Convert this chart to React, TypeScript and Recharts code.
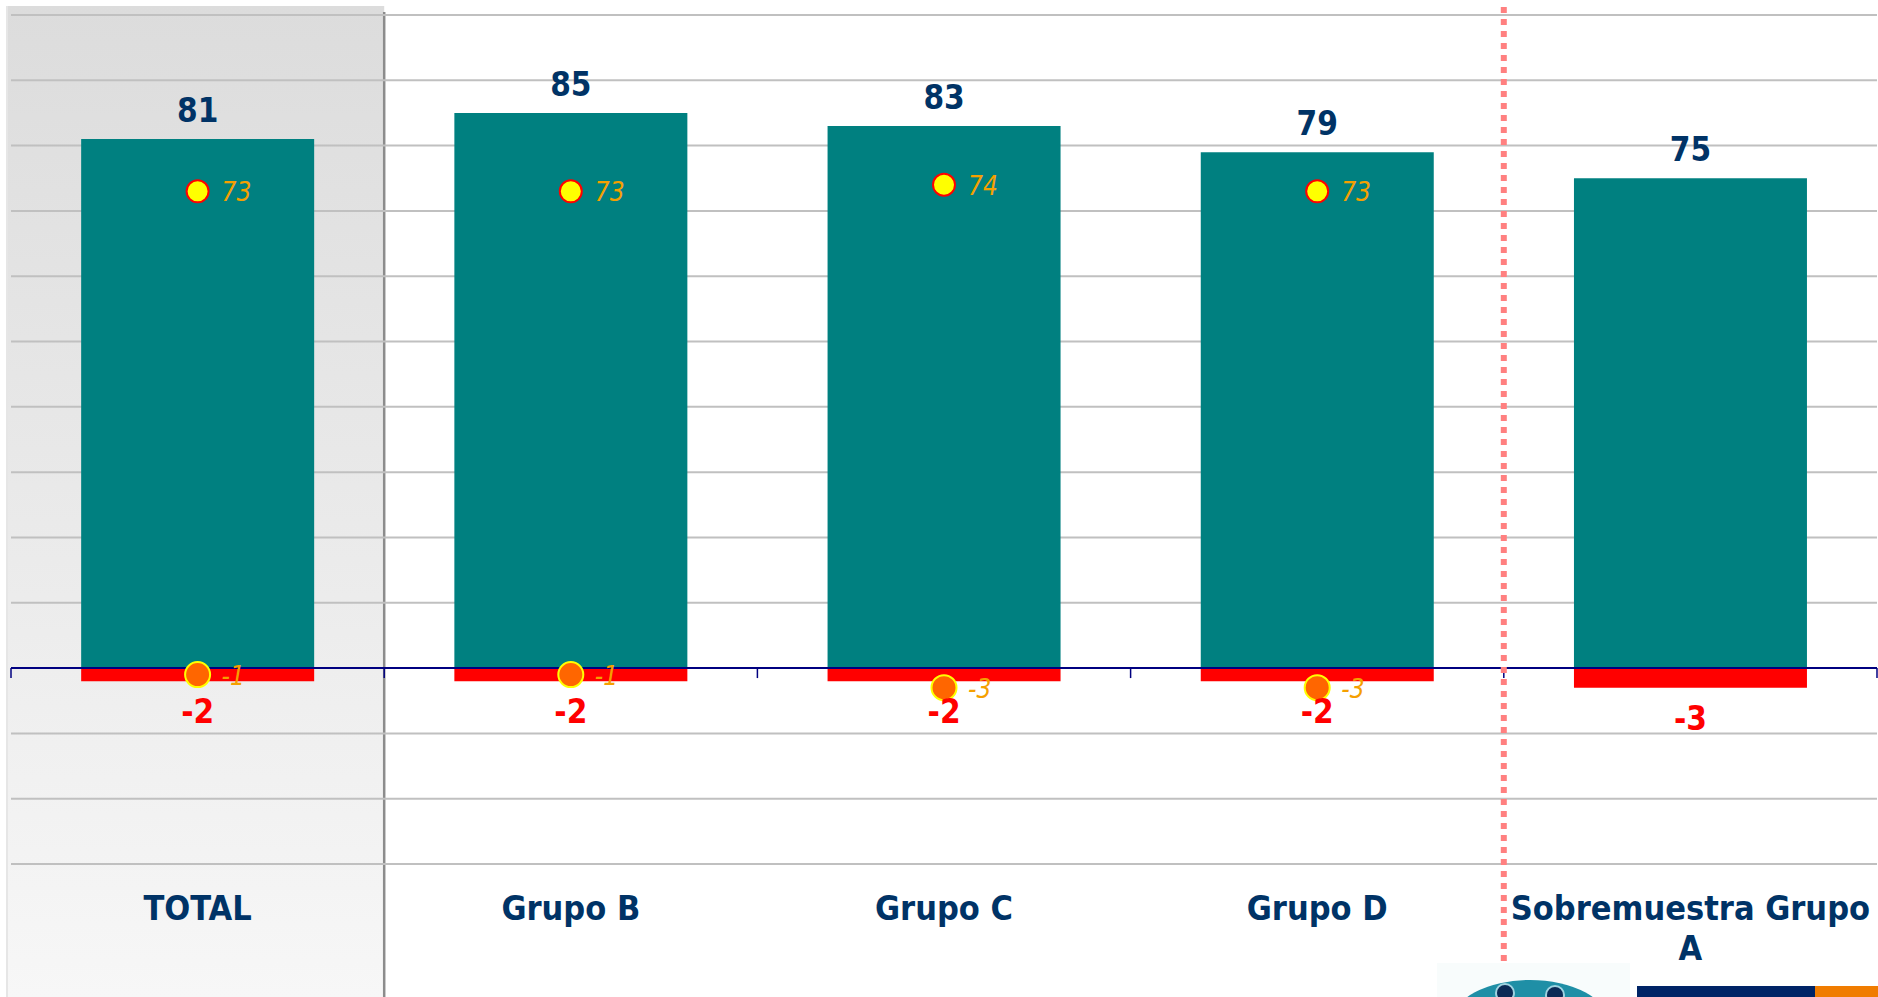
import React from 'react';
import {
  ComposedChart, Bar, Line, XAxis, YAxis, CartesianGrid, LabelList, ReferenceLine, ReferenceArea,
} from 'recharts';

// índice por segmento, variación y valores de referencia (puntos)
const categorias = ['TOTAL', 'Grupo B', 'Grupo C', 'Grupo D', 'Sobremuestra Grupo A'];
const indice = [81, 85, 83, 79, 75];
const variacion = [-2, -2, -2, -2, -3];
const referencia = [73, 73, 74, 73, null];
const referenciaVar = [-1, -1, -3, -3, null];
const yTicks = [-30, -20, -10, 0, 10, 20, 30, 40, 50, 60, 70, 80, 90, 100];

const data = categorias.map((name, i) => ({
  name,
  indice: indice[i],
  variacion: variacion[i],
  referencia: referencia[i],
  referenciaVar: referenciaVar[i],
}));

const W = 1878;
const H = 997;
const FONT = "'DejaVu Sans Condensed', 'DejaVu Sans', sans-serif";
const NAVY = '#003366';

function BarValueLabel(props: any) {
  const { x, y, width, height, value } = props;
  const top = Math.min(y, y + height);
  const bottom = Math.max(y, y + height);
  const neg = value < 0;
  return (
    <text
      x={x + width / 2}
      y={neg ? bottom + 42 : top - 17}
      textAnchor="middle"
      fill={neg ? '#FF0000' : NAVY}
      fontSize={33}
      fontWeight="bold"
      fontStretch="condensed"
      fontFamily={FONT}
    >
      {value}
    </text>
  );
}

function DotLabel(props: any) {
  const { x, y, value } = props;
  if (value == null) return null;
  return (
    <text
      x={x + 24}
      y={y + 1}
      dominantBaseline="central"
      fill="#F5A000"
      fontSize={26}
      fontStyle="italic"
      fontStretch="condensed"
      fontFamily={FONT}
    >
      {value}
    </text>
  );
}

// eje en el cero con marcas entre categorías y separador punteado antes de la sobremuestra
function ZeroAxis(props: any) {
  const { x1, y1, x2 } = props;
  const step = (x2 - x1) / categorias.length;
  const marks = categorias.map((_, i) => x1 + i * step).concat(x2);
  const divider = x1 + (categorias.length - 1) * step;
  return (
    <g>
      <line x1={x1} y1={y1} x2={x2} y2={y1} stroke="#000080" strokeWidth={2} />
      {marks.map((mx, i) => (
        <line key={i} x1={mx} x2={mx} y1={y1} y2={y1 + 10} stroke="#000080" strokeWidth={1.5} />
      ))}
      <line x1={divider} x2={divider} y1={7} y2={976} stroke="#FF8080" strokeWidth={6} strokeDasharray="6 6" />
    </g>
  );
}

// fondo sombreado de la columna TOTAL
function TotalPanel(props: any) {
  const { x, width } = props;
  return (
    <g>
      <defs>
        <linearGradient id="panelGrad" x1="0" y1="0" x2="0" y2="1">
          <stop offset="0%" stopColor="#DCDCDC" />
          <stop offset="67%" stopColor="#EEEEEE" />
          <stop offset="100%" stopColor="#F7F7F7" />
        </linearGradient>
      </defs>
      <rect x={x - 5} y={6} width={width + 5} height={H - 6} fill="url(#panelGrad)" />
      <line x1={x - 4} x2={x - 4} y1={6} y2={H} stroke="#E6E6E6" strokeWidth={2} />
      <line x1={x + width} x2={x + width} y1={12} y2={H} stroke="#8C8C8C" strokeWidth={2.5} />
    </g>
  );
}

// parte las etiquetas largas en varias líneas
function wrapLabel(label: string, maxChars: number) {
  const lines: string[] = [];
  let current = '';
  label.split(' ').forEach((word) => {
    const next = current ? `${current} ${word}` : word;
    if (next.length > maxChars && current) {
      lines.push(current);
      current = word;
    } else {
      current = next;
    }
  });
  if (current) lines.push(current);
  return lines;
}

function CategoryTick(props: any) {
  const { x, y, payload } = props;
  const lines = wrapLabel(String(payload.value), 18);
  return (
    <text
      x={x}
      y={y + 56}
      textAnchor="middle"
      fill={NAVY}
      fontSize={34}
      fontWeight="bold"
      fontStretch="condensed"
      fontFamily={FONT}
    >
      {lines.map((line, i) => (
        <tspan key={i} x={x} dy={i === 0 ? 0 : 40}>{line}</tspan>
      ))}
    </text>
  );
}

function Logo() {
  return (
    <svg width={W} height={H} style={{ position: 'absolute', left: 0, top: 0, pointerEvents: 'none' }}>
      <rect x={1437} y={963} width={193} height={34} fill="#F8FCFC" />
      <ellipse cx={1530} cy={1022} rx={78} ry={42} fill="#1F8FA6" />
      <circle cx={1505} cy={993} r={9} fill="#0B2A55" stroke="#9FD3E0" strokeWidth={2} />
      <circle cx={1555} cy={995} r={9} fill="#0B2A55" stroke="#9FD3E0" strokeWidth={2} />
      <rect x={1637} y={986} width={178} height={11} fill="#002466" />
      <rect x={1815} y={986} width={63} height={11} fill="#F07C00" />
    </svg>
  );
}

export default function App() {
  return (
    <div style={{ position: 'absolute', left: 0, top: 0, width: W, height: H, overflow: 'hidden', background: '#fff' }}>
      <ComposedChart
        width={W}
        height={H}
        data={data}
        stackOffset="sign"
        barCategoryGap="18.8%"
        margin={{ top: 15, right: 1, bottom: 0, left: 11 }}
      >
        <ReferenceArea x1="TOTAL" x2="TOTAL" ifOverflow="visible" zIndex={-150} shape={(p: any) => <TotalPanel {...p} />} />
        <CartesianGrid vertical={false} stroke="#C0C0C0" strokeWidth={2} />
        <XAxis
          dataKey="name"
          height={133}
          axisLine={false}
          tickLine={false}
          tickSize={0}
          tickMargin={0}
          interval={0}
          tick={(p: any) => <CategoryTick {...p} />}
        />
        <YAxis hide domain={[-30, 100]} ticks={yTicks} allowDataOverflow />
        <Bar dataKey="indice" stackId="s" fill="#008080" isAnimationActive={false}>
          <LabelList dataKey="indice" content={BarValueLabel} />
        </Bar>
        <Bar dataKey="variacion" stackId="s" fill="#FF0000" isAnimationActive={false}>
          <LabelList dataKey="variacion" content={BarValueLabel} />
        </Bar>
        <ReferenceLine y={0} zIndex={350} ifOverflow="visible" shape={(p: any) => <ZeroAxis {...p} />} />
        <Line
          dataKey="referencia"
          stroke="none"
          isAnimationActive={false}
          activeDot={false}
          dot={{ r: 11, fill: '#FFFF00', stroke: '#FF0000', strokeWidth: 2 }}
        >
          <LabelList dataKey="referencia" content={DotLabel} />
        </Line>
        <Line
          dataKey="referenciaVar"
          stroke="none"
          isAnimationActive={false}
          activeDot={false}
          dot={{ r: 12.5, fill: '#FF6600', stroke: '#FFFF00', strokeWidth: 2 }}
        >
          <LabelList dataKey="referenciaVar" content={DotLabel} />
        </Line>
      </ComposedChart>
      <Logo />
    </div>
  );
}
